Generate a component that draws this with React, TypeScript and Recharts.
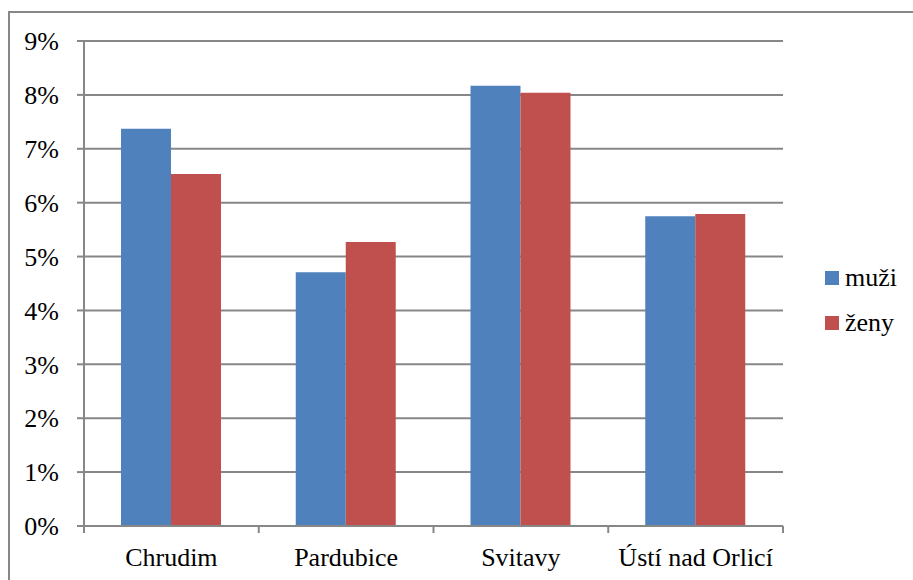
import React from 'react';
import { BarChart, Bar, XAxis, YAxis, CartesianGrid } from 'recharts';

const categories = ['Chrudim', 'Pardubice', 'Svitavy', 'Ústí nad Orlicí'];
const muzi = [7.37, 4.71, 8.17, 5.75];
const zeny = [6.53, 5.27, 8.04, 5.79];
const yTicks = [0, 1, 2, 3, 4, 5, 6, 7, 8, 9];
const seriesNames = ['muži', 'ženy'];
const seriesKeys = ['muzi', 'zeny'];
const seriesColors = ['#4F81BD', '#C0504D'];

const data = categories.map((name, i) => ({ name, muzi: muzi[i], zeny: zeny[i] }));

const FONT = "'Liberation Serif', Tinos, 'Times New Roman', 'DejaVu Serif', 'Noto Serif', serif";
const GRAY = '#878787';

function CategoryTick(props: any) {
  const { x, y, payload, index, visibleTicksCount, width } = props;
  const half =
    payload && typeof payload.offset === 'number' && payload.offset > 0
      ? payload.offset
      : (width || 699) / (visibleTicksCount || 4) / 2;
  const axisY = y - 22;
  return (
    <g>
      <line x1={x - half} x2={x - half} y1={axisY} y2={axisY + 7} stroke={GRAY} strokeWidth={2} />
      {index === visibleTicksCount - 1 && (
        <line x1={x + half} x2={x + half} y1={axisY} y2={axisY + 7} stroke={GRAY} strokeWidth={2} />
      )}
      <text x={x} y={y} dy="0.71em" textAnchor="middle" fill="#000" fontSize={26} style={{ fontFamily: FONT }}>
        {payload.value}
      </text>
    </g>
  );
}

export default function App() {
  return (
    <div style={{ position: 'fixed', left: 0, top: 0, width: 913, height: 580, overflow: 'hidden', background: '#fff', fontFamily: FONT }}>
      <div
        style={{
          position: 'absolute',
          left: 8,
          top: 11,
          width: 1000,
          height: 700,
          border: `2px solid ${GRAY}`,
          boxSizing: 'border-box',
        }}
      />
      <div style={{ position: 'absolute', left: 0, top: 0 }}>
        <BarChart
          width={913}
          height={580}
          data={data}
          margin={{ top: 41, right: 130, bottom: 0, left: 0 }}
          barGap={0}
          style={{ fontFamily: FONT }}
        >
          <CartesianGrid vertical={false} stroke={GRAY} strokeWidth={2} />
          <YAxis
            width={84}
            domain={[0, 9]}
            ticks={yTicks}
            interval={0}
            tickFormatter={(v: number) => `${v}%`}
            tickSize={7}
            tickMargin={18}
            axisLine={{ stroke: GRAY, strokeWidth: 2 }}
            tickLine={{ stroke: GRAY, strokeWidth: 2 }}
            tick={{ fill: '#000', fontSize: 26, style: { fontFamily: FONT } }}
          />
          <XAxis
            dataKey="name"
            height={54}
            interval={0}
            tickSize={7}
            tickMargin={15}
            tickLine={false}
            axisLine={{ stroke: GRAY, strokeWidth: 2 }}
            tick={<CategoryTick />}
          />
          {seriesKeys.map((k, i) => (
            <Bar key={k} dataKey={k} name={seriesNames[i]} fill={seriesColors[i]} barSize={50} isAnimationActive={false} />
          ))}
        </BarChart>
      </div>
      {seriesNames.map((n, i) => (
        <div
          key={n}
          style={{
            position: 'absolute',
            left: 825,
            top: 262 + i * 45,
            height: 32,
            display: 'flex',
            alignItems: 'center',
          }}
        >
          <div style={{ width: 14, height: 14, background: seriesColors[i], marginRight: 6 }} />
          <span style={{ fontFamily: FONT, fontSize: 26, lineHeight: '32px', color: '#000' }}>{n}</span>
        </div>
      ))}
    </div>
  );
}
